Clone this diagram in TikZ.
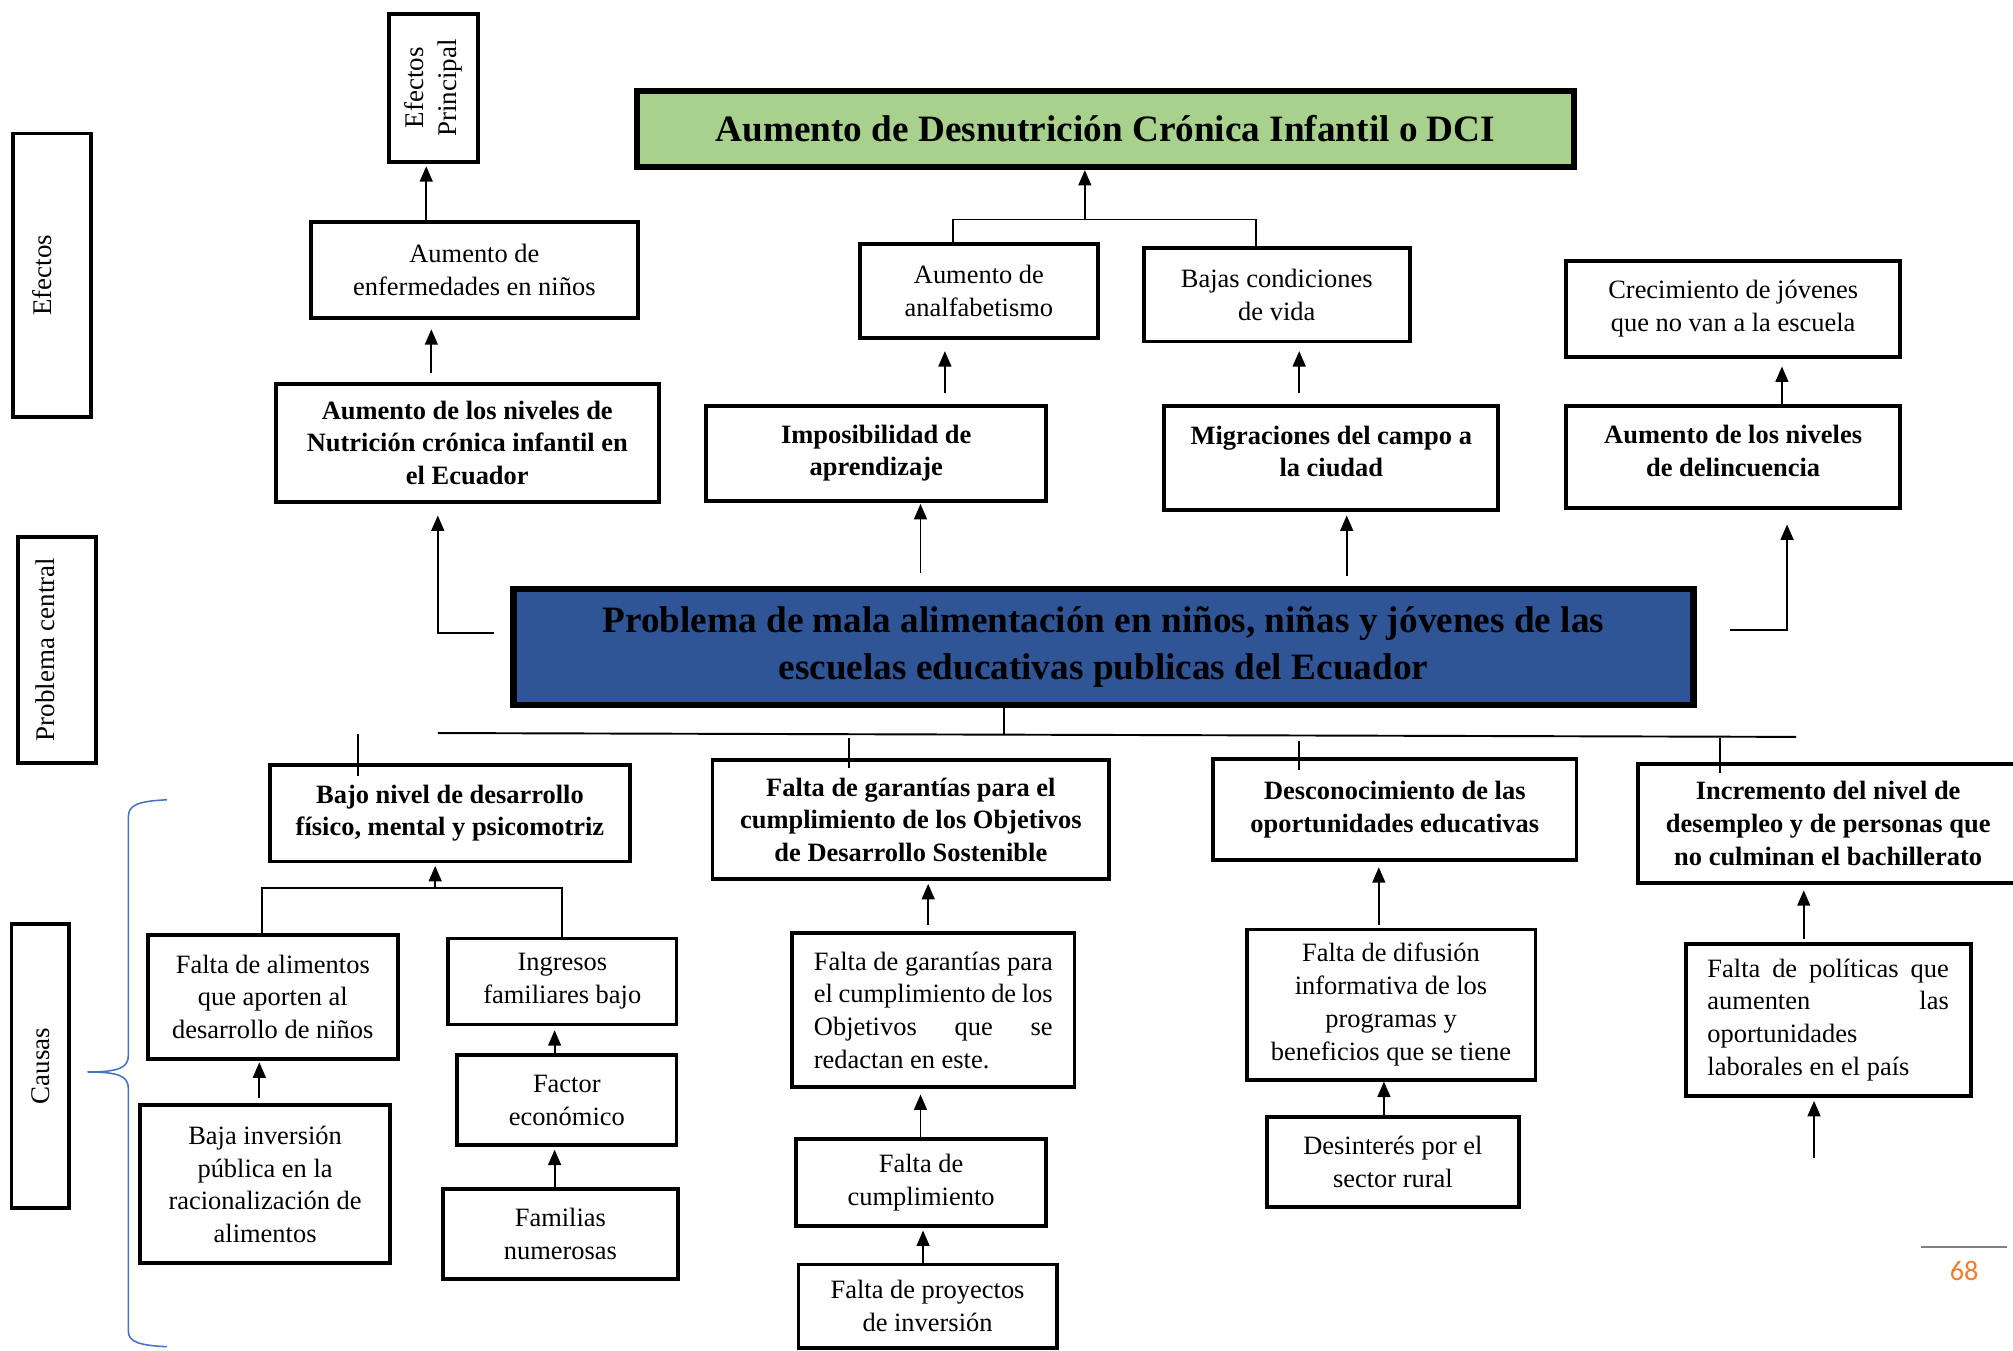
\documentclass[tikz,border=0pt]{standalone}
\usepackage{fontspec}
\setmainfont{Liberation Serif}
\newfontfamily\carlito{Carlito}
\usetikzlibrary{arrows.meta,calc}
\definecolor{boxgreen}{HTML}{A9D18E}
\definecolor{boxblue}{HTML}{2F5597}
\definecolor{bracecol}{HTML}{4472C4}
\definecolor{pgorange}{HTML}{ED7D31}
\tikzset{
  bx/.style={draw, line width=1.5pt, inner sep=0pt, align=center, font=\fontsize{10.3}{12.75}\selectfont},
  bxb/.style={bx, font=\fontsize{10.3}{12.75}\selectfont\bfseries},
  lab/.style={bx, rotate=90, font=\fontsize{10.5}{12.75}\selectfont},
  big/.style={draw, line width=2.5pt, inner sep=0pt, align=center, font=\fontsize{14.5}{18}\selectfont\bfseries},
  arr/.style={line width=0.75pt, -{Triangle[length=6pt,width=5pt]}},
  ln/.style={line width=0.75pt},
}
\newcommand\UpArr[5]{\draw[arr, shorten <=#4pt, shorten >=#5pt] (#1,0 |- #2.north) -- (#1,0 |- #3.south);}
\begin{document}
\begin{tikzpicture}[x=0.5pt, y=-0.5pt]
\fill[white] (0,0) rectangle (1568,1052);
\useasboundingbox (0,0) rectangle (1568,1052);

% side labels
\node[lab, minimum width=57.5pt, minimum height=34.5pt] (effp) at (337.5,68.5) {Efectos\\Principal};
\node[lab, minimum width=110.5pt, minimum height=30.5pt, text depth=7.5pt] (efe) at (40.5,214.5) {Efectos};
\node[lab, minimum width=88pt, minimum height=30.5pt, text depth=9pt] (prc) at (44.5,506) {Problema central};
\node[lab, minimum width=110.5pt, minimum height=22.5pt] (cau) at (31.5,830.5) {Causas};

% effects
\node[big, fill=boxgreen, minimum width=365pt, minimum height=29.5pt] (green) at (861,100.5) {Aumento de Desnutrición Crónica Infantil o DCI};
\node[bx, minimum width=127.5pt, minimum height=37.5pt] (enf) at (369.5,210.5) {Aumento de\\enfermedades en niños};
\node[bxb, minimum width=149pt, minimum height=46pt] (nut) at (364,345) {Aumento de los niveles de\\Nutrición crónica infantil en\\el Ecuador};
\node[bx, minimum width=92.5pt, minimum height=36.5pt] (anal) at (762.5,226.5) {Aumento de\\analfabetismo};
\node[bx, minimum width=103.5pt, minimum height=36.5pt] (bajas) at (994.5,229.5) {Bajas condiciones\\de vida};
\node[bxb, minimum width=132.5pt, minimum height=37pt] (impo) at (682.5,353) {Imposibilidad de\\aprendizaje};
\node[bxb, minimum width=130pt, minimum height=40.5pt, text depth=5pt] (migr) at (1037,356.5) {Migraciones del campo a\\la ciudad};
\node[bx, minimum width=130pt, minimum height=37.5pt] (crec) at (1350,240.5) {Crecimiento de jóvenes\\que no van a la escuela};
\node[bxb, minimum width=130pt, minimum height=40pt, text depth=5pt] (delin) at (1350,356) {Aumento de los niveles\\de delincuencia};

% central problem
\node[big, fill=boxblue, minimum width=459.5pt, minimum height=45pt] (blue) at (859.5,504) {Problema de mala alimentación en niños, niñas y jóvenes de las\\escuelas educativas publicas del Ecuador};

% causes
\node[bxb, minimum width=140.5pt, minimum height=37.5pt] (bajo) at (350.5,633.5) {Bajo nivel de desarrollo\\físico, mental y psicomotriz};
\node[bxb, minimum width=154.5pt, minimum height=46.5pt] (fgb) at (709.5,638.5) {Falta de garantías para el\\cumplimiento de los Objetivos\\de Desarrollo Sostenible};
\node[bxb, minimum width=141.5pt, minimum height=39.5pt, text depth=2pt] (desc) at (1086.5,630.5) {Desconocimiento de las\\oportunidades educativas};
\node[bxb, minimum width=148pt, minimum height=46.5pt] (incr) at (1424,641.5) {Incremento del nivel de\\desempleo y de personas que\\no culminan el bachillerato};

\node[bx, minimum width=97.5pt, minimum height=48.5pt] (falim) at (212.5,776.5) {Falta de alimentos\\que aporten al\\desarrollo de niños};
\node[bx, minimum width=89pt, minimum height=33.5pt] (ingr) at (438,764.5) {Ingresos\\familiares bajo};
\node[bx, minimum width=97.5pt, minimum height=61.5pt] (bajainv) at (206.5,922.5) {Baja inversión\\pública en la\\racionalización de\\alimentos};
\node[bx, minimum width=85.5pt, minimum height=35pt] (factor) at (441.5,857) {Factor\\económico};
\node[bx, minimum width=91.5pt, minimum height=35pt] (famil) at (436.5,961) {Familias\\numerosas};

\node[bx, minimum width=110pt, minimum height=60pt] (fgn) at (727,787) {\makebox[93pt][s]{Falta de garantías para}\\\makebox[93pt][s]{el cumplimiento de los}\\\makebox[93pt][s]{Objetivos que se}\\\makebox[93pt][l]{redactan en este.}};
\node[bx, minimum width=97.5pt, minimum height=34pt] (fcum) at (717.5,921) {Falta de\\cumplimiento};
\node[bx, minimum width=100.5pt, minimum height=32.5pt] (fproy) at (722.5,1017.5) {Falta de proyectos\\de inversión};

\node[bx, minimum width=112.5pt, minimum height=58.5pt] (fdif) at (1083.5,782.5) {Falta de difusión\\informativa de los\\programas y\\beneficios que se tiene};
\node[bx, minimum width=98pt, minimum height=35pt] (desint) at (1085,905) {Desinterés por el\\sector rural};

\node[bx, minimum width=111pt, minimum height=59.5pt] (fpol) at (1424,794.5) {\makebox[94pt][s]{Falta de políticas que}\\\makebox[94pt][s]{aumenten las}\\\makebox[94pt][l]{oportunidades}\\\makebox[94pt][l]{laborales en el país}};

% effect connectors
\draw[arr, shorten >=1pt] (332,0 |- enf.north) -- (332,0 |- effp.west);
\UpArr{336}{nut}{enf}{3.5}{3.5}
\coordinate (j1) at (845,171);
\draw[ln] (742,0 |- anal.north) |- (j1) -| (978,0 |- bajas.north);
\draw[arr] (j1) -- (845,0 |- green.south);
\UpArr{736}{impo}{anal}{4}{4.5}
\UpArr{1012}{migr}{bajas}{4}{3}
\UpArr{717}{blue}{impo}{5}{0.5}
\UpArr{1049}{blue}{migr}{4}{1.5}
\UpArr{1388}{delin}{crec}{0}{3}
\draw[arr, shorten >=4.5pt] ($(blue.west)+(-13,-11)$) -| (341,0 |- nut.south);
\draw[arr, shorten >=5.5pt] ($(blue.east)+(26,-13)$) -| (1392,0 |- delin.south);

% cause bar
\coordinate (bl) at (341,571);
\coordinate (br) at (1399,574);
\draw[ln] (bl) -- (br);
\draw[ln] (782,0 |- blue.south) -- (782,572.5);
\coordinate (t1) at (279,572);
\coordinate (t2) at (661,575);
\coordinate (t3) at (1012,577);
\coordinate (t4) at (1340,575);
\draw[ln] (t1) -- ($(279,0 |- bajo.north)+(0,10)$);
\draw[ln] (t2) -- ($(661,0 |- fgb.north)+(0,8)$);
\draw[ln] (t3) -- ($(1012,0 |- desc.north)+(0,10)$);
\draw[ln] (t4) -- ($(1340,0 |- incr.north)+(0,9)$);

% cause connectors
\coordinate (j2) at (339,692);
\draw[ln] (204,0 |- falim.north) |- (j2) -| (438,0 |- ingr.north);
\draw[arr, shorten >=1pt] (j2) -- (339,0 |- bajo.south);
\UpArr{202}{bajainv}{falim}{2}{0.5}
\UpArr{432}{factor}{ingr}{0}{1.5}
\UpArr{432}{famil}{factor}{0}{1}
\UpArr{723}{fgn}{fgb}{2.5}{1}
\UpArr{717}{fcum}{fgn}{0}{2}
\UpArr{719}{fproy}{fcum}{0}{1}
\UpArr{1074}{fdif}{desc}{1}{2}
\UpArr{1078}{desint}{fdif}{0}{0}
\UpArr{1405}{fpol}{incr}{1}{2}
\coordinate (pf) at (1413,902);
\draw[arr, shorten >=1pt] (pf) -- (1413,0 |- fpol.south);

% brace
\draw[bracecol, line width=0.6pt] (130,623) .. controls (108,624) and (100,627) .. (100,636) -- (100,822) .. controls (100,832) and (92,835) .. (68,835) .. controls (92,835) and (100,838) .. (100,848) -- (100,1037) .. controls (100,1045) and (108,1048) .. (130,1049);

% page number
\coordinate (pl1) at (1496,971);
\coordinate (pl2) at (1563,971);
\draw[gray, line width=0.8pt] (pl1) -- (pl2);
\node[font=\carlito\fontsize{11}{13}\selectfont, text=pgorange] (pg) at (1530,990) {68};
\end{tikzpicture}
\end{document}
